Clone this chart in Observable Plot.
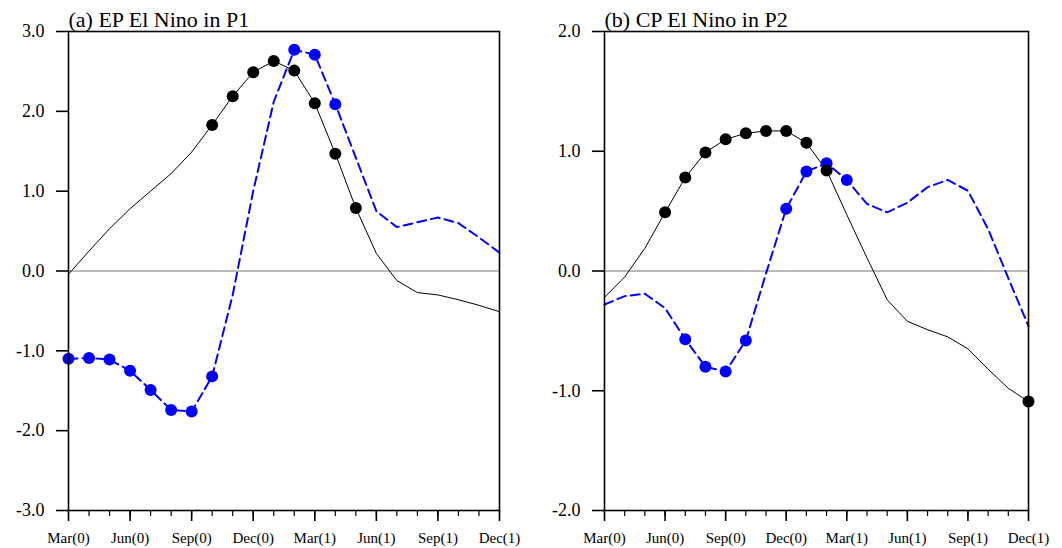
<!DOCTYPE html>
<html>
<head>
<meta charset="utf-8">
<script src="https://cdn.jsdelivr.net/npm/d3@7"></script>
<script src="https://cdn.jsdelivr.net/npm/@observablehq/plot@0.6"></script>
<style>
  html, body { margin: 0; padding: 0; background: white; }
  #wrap { display: flex; width: 1062px; height: 548px; }
  svg { display: block; }
</style>
</head>
<body>
<div id="wrap"></div>
<script>
// Month index 0..21 = Mar(0) .. Dec(1)
const tickLabels = ["Mar(0)", "Jun(0)", "Sep(0)", "Dec(0)", "Mar(1)", "Jun(1)", "Sep(1)", "Dec(1)"];

// Panel (a) EP El Nino in P1
const aBlack = [-0.04, 0.25, 0.53, 0.78, 1.00, 1.22, 1.49, 1.83, 2.19, 2.49, 2.63, 2.51, 2.10, 1.47, 0.79, 0.22, -0.12, -0.27, -0.30, -0.36, -0.43, -0.51];
const aBlue  = [-1.10, -1.09, -1.11, -1.25, -1.49, -1.74, -1.76, -1.32, -0.30, 1.00, 2.12, 2.77, 2.71, 2.09, 1.42, 0.75, 0.55, 0.61, 0.67, 0.60, 0.42, 0.23];
const aBlackSig = [7, 8, 9, 10, 11, 12, 13, 14];
const aBlueSig  = [0, 1, 2, 3, 4, 5, 6, 7, 11, 12, 13];

// Panel (b) CP El Nino in P2
const bBlack = [-0.22, -0.05, 0.19, 0.49, 0.78, 0.99, 1.10, 1.15, 1.17, 1.17, 1.07, 0.84, 0.47, 0.11, -0.24, -0.42, -0.49, -0.55, -0.65, -0.82, -0.98, -1.09];
const bBlue  = [-0.28, -0.21, -0.19, -0.31, -0.57, -0.80, -0.84, -0.58, -0.02, 0.52, 0.83, 0.90, 0.76, 0.56, 0.49, 0.57, 0.70, 0.76, 0.67, 0.35, -0.06, -0.46];
const bBlackSig = [3, 4, 5, 6, 7, 8, 9, 10, 11, 21];
const bBlueSig  = [4, 5, 6, 7, 9, 10, 11, 12];

const FONT = "'Liberation Serif', 'DejaVu Serif', serif";

function panel({title, black, blue, blackSig, blueSig, yDomain, yTicks, marginLeft, marginRight}) {
  const rowsK = black.map((v, i) => ({m: i, v, s: blackSig.includes(i)}));
  const rowsB = blue.map((v, i) => ({m: i, v, s: blueSig.includes(i)}));
  const major = d3.range(0, 22, 3);
  const minor = d3.range(0, 22);
  return Plot.plot({
    width: 531,
    height: 548,
    marginLeft,
    marginRight,
    marginTop: 31,
    marginBottom: 38,
    style: {fontFamily: FONT, fontSize: "18px", color: "black", background: "white", overflow: "visible"},
    x: {domain: [0, 21], label: null},
    y: {domain: yDomain, label: null},
    marks: [
      Plot.ruleY([0], {stroke: "#777", strokeWidth: 1}),
      Plot.line(rowsK, {x: "m", y: "v", stroke: "black", strokeWidth: 1}),
      Plot.line(rowsB, {x: "m", y: "v", stroke: "blue", strokeWidth: 2, strokeDasharray: "9,5"}),
      Plot.dot(rowsB.filter(d => d.s), {x: "m", y: "v", r: 6, fill: "blue", stroke: "none"}),
      Plot.dot(rowsK.filter(d => d.s), {x: "m", y: "v", r: 6, fill: "black", stroke: "none"}),
      Plot.frame({stroke: "black", strokeWidth: 1.6}),
      Plot.axisY({ticks: yTicks, tickSize: 12, tickPadding: 12, tickFormat: d => d.toFixed(1), fontSize: 18, strokeWidth: 1.6, fontFamily: FONT}),
      Plot.axisX({ticks: minor, tickSize: 6, tickFormat: () => "", strokeWidth: 1.2}),
      Plot.axisX({ticks: major, tickSize: 11, tickPadding: 11, tickFormat: d => tickLabels[Math.round(d / 3)], fontSize: 15, strokeWidth: 1.6, fontFamily: FONT}),
      Plot.text([title], {frameAnchor: "top-left", textAnchor: "start", lineAnchor: "bottom", dy: -5, fontSize: 22, fill: "black", fontFamily: FONT})
    ]
  });
}

const wrap = document.getElementById("wrap");
wrap.append(panel({
  title: "(a) EP El Nino in P1",
  black: aBlack, blue: aBlue, blackSig: aBlackSig, blueSig: aBlueSig,
  yDomain: [-3, 3], yTicks: [-3, -2, -1, 0, 1, 2, 3],
  marginLeft: 68, marginRight: 32
}));
wrap.append(panel({
  title: "(b) CP El Nino in P2",
  black: bBlack, blue: bBlue, blackSig: bBlackSig, blueSig: bBlueSig,
  yDomain: [-2, 2], yTicks: [-2, -1, 0, 1, 2],
  marginLeft: 73, marginRight: 34
}));
</script>
</body>
</html>
